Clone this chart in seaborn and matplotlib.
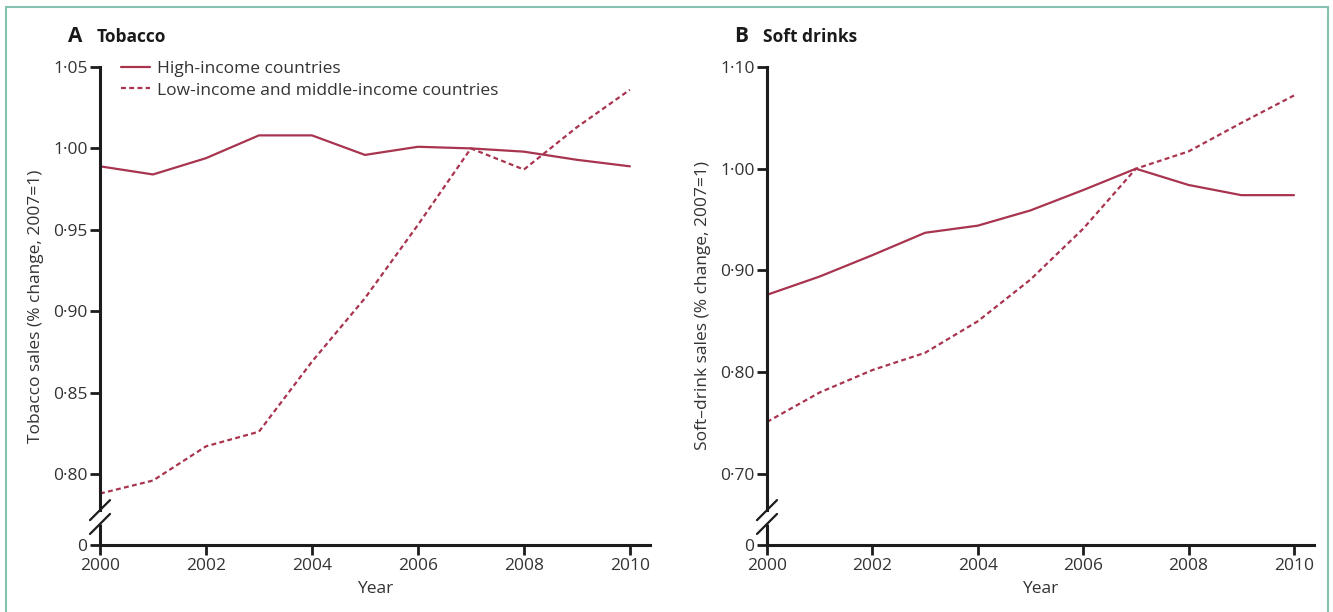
import matplotlib
matplotlib.use("Agg")
import matplotlib.pyplot as plt
from matplotlib.patches import Rectangle
import pandas as pd
import seaborn as sns

# ---- data -------------------------------------------------------------
years = list(range(2000, 2011))
tobacco_high = [0.989, 0.984, 0.994, 1.008, 1.008, 0.996, 1.001, 1.000, 0.998, 0.993, 0.989]
tobacco_low = [0.788, 0.796, 0.817, 0.826, 0.869, 0.908, 0.953, 1.000, 0.987, 1.013, 1.036]
soft_high = [0.876, 0.894, 0.915, 0.937, 0.944, 0.959, 0.979, 1.000, 0.984, 0.974, 0.974]
soft_low = [0.751, 0.780, 0.802, 0.819, 0.850, 0.891, 0.941, 1.000, 1.017, 1.045, 1.072]

group_names = ["High-income countries", "Low-income and middle-income countries"]
x_ticks = [2000, 2002, 2004, 2006, 2008, 2010]
tobacco_ticks = [1.05, 1.00, 0.95, 0.90, 0.85, 0.80]
soft_ticks = [1.10, 1.00, 0.90, 0.80, 0.70]

# ---- style ------------------------------------------------------------
sns.set_style("ticks")
plt.rcParams["font.family"] = ["Open Sans", "DejaVu Sans"]
TEXT = "#333333"
AXIS = "#1c1c1c"
LINE = "#a8344f"

fig = plt.figure(figsize=(13.33, 6.12), dpi=100)
W, H = 1333, 612


def long_frame(high, low):
    return pd.DataFrame({
        "Year": years * 2,
        "value": high + low,
        "group": [group_names[0]] * len(years) + [group_names[1]] * len(years),
    })


def fmt(v):
    return f"{v:.2f}".replace(".", "\u00b7")


def panel(rect, high, low, ticks, ymin, ylabel, show_legend, label_x):
    ax = fig.add_axes(rect)
    data = long_frame(high, low)
    sns.lineplot(
        data=data, x="Year", y="value", hue="group", style="group",
        palette=[LINE, LINE], dashes={group_names[0]: "", group_names[1]: (2.2, 1.5)},
        linewidth=1.6, ax=ax, legend=show_legend,
    )
    ytop = ticks[0]
    ax.set_xlim(2000, 2010.38)
    ax.set_ylim(ymin, ytop)
    ax.set_xticks(x_ticks)
    ax.set_xticklabels([str(t) for t in x_ticks])
    ax.set_yticks(ticks + [ymin])
    ax.set_yticklabels([fmt(t) for t in ticks] + ["0"])
    ax.tick_params(axis="both", direction="out", length=7, width=2,
                   color=AXIS, labelsize=12.5, labelcolor=TEXT, pad=2)
    for s in ("top", "right"):
        ax.spines[s].set_visible(False)
    for s in ("left", "bottom"):
        ax.spines[s].set_color(AXIS)
        ax.spines[s].set_linewidth(2.2)

    # broken y axis: gap in the spine with two slashes
    span = ytop - ymin
    gap_top = 0.073
    gap_bot = 0.044
    ax.spines["left"].set_bounds(ymin + gap_top * span, ytop)
    ax.plot([0, 0], [0, gap_bot], transform=ax.transAxes, color=AXIS,
            lw=2.2, clip_on=False, solid_capstyle="butt")
    wpx = rect[2] * W
    hpx = rect[3] * H
    dx, dy = 10 / wpx, 10 / hpx
    for yc in (gap_top, gap_bot):
        ax.plot([-dx, dx], [yc - dy, yc + dy], transform=ax.transAxes,
                color=AXIS, lw=1.6, clip_on=False)

    ax.set_xlabel("Year", fontsize=12.5, color=TEXT)
    ax.xaxis.set_label_coords(0.5, -0.075)
    ax.set_ylabel(ylabel, fontsize=12.5, color=TEXT)
    ax.yaxis.set_label_coords(label_x, 0.5)

    if show_legend:
        handles, labels = ax.get_legend_handles_labels()
        ax.legend(handles, labels, loc="upper left", bbox_to_anchor=(14 / wpx, 1.027),
                  borderaxespad=0, frameon=False, fontsize=12.5, handlelength=1.7,
                  handletextpad=0.35, labelspacing=0.3, labelcolor=TEXT)
    return ax


axA = panel([100 / W, 1 - 545 / H, 550 / W, 478 / H], tobacco_high, tobacco_low,
            tobacco_ticks, 0.7564, "Tobacco sales (% change, 2007=1)", True, -0.101)
axB = panel([767 / W, 1 - 545 / H, 547 / W, 478 / H], soft_high, soft_low,
            soft_ticks, 0.630, "Soft\u2013drink sales (% change, 2007=1)", False, -0.103)

# panel headings
fig.text(68 / W, 1 - 37 / H, "A", fontsize=15, fontweight="bold", color="#1a1a1a", va="center")
fig.text(97 / W, 1 - 37 / H, "Tobacco", fontsize=12.5, fontweight="bold", color="#1a1a1a", va="center")
fig.text(734 / W, 1 - 37 / H, "B", fontsize=15, fontweight="bold", color="#1a1a1a", va="center")
fig.text(763 / W, 1 - 37 / H, "Soft drinks", fontsize=12.5, fontweight="bold", color="#1a1a1a", va="center")

# thin teal frame around the figure
fig.add_artist(Rectangle((6 / W, -0.05), 1322 / W, 1.05 - 7 / H,
                         transform=fig.transFigure, fill=False,
                         edgecolor="#86c2b2", linewidth=1.5))

fig.savefig("out.png", dpi=100)
